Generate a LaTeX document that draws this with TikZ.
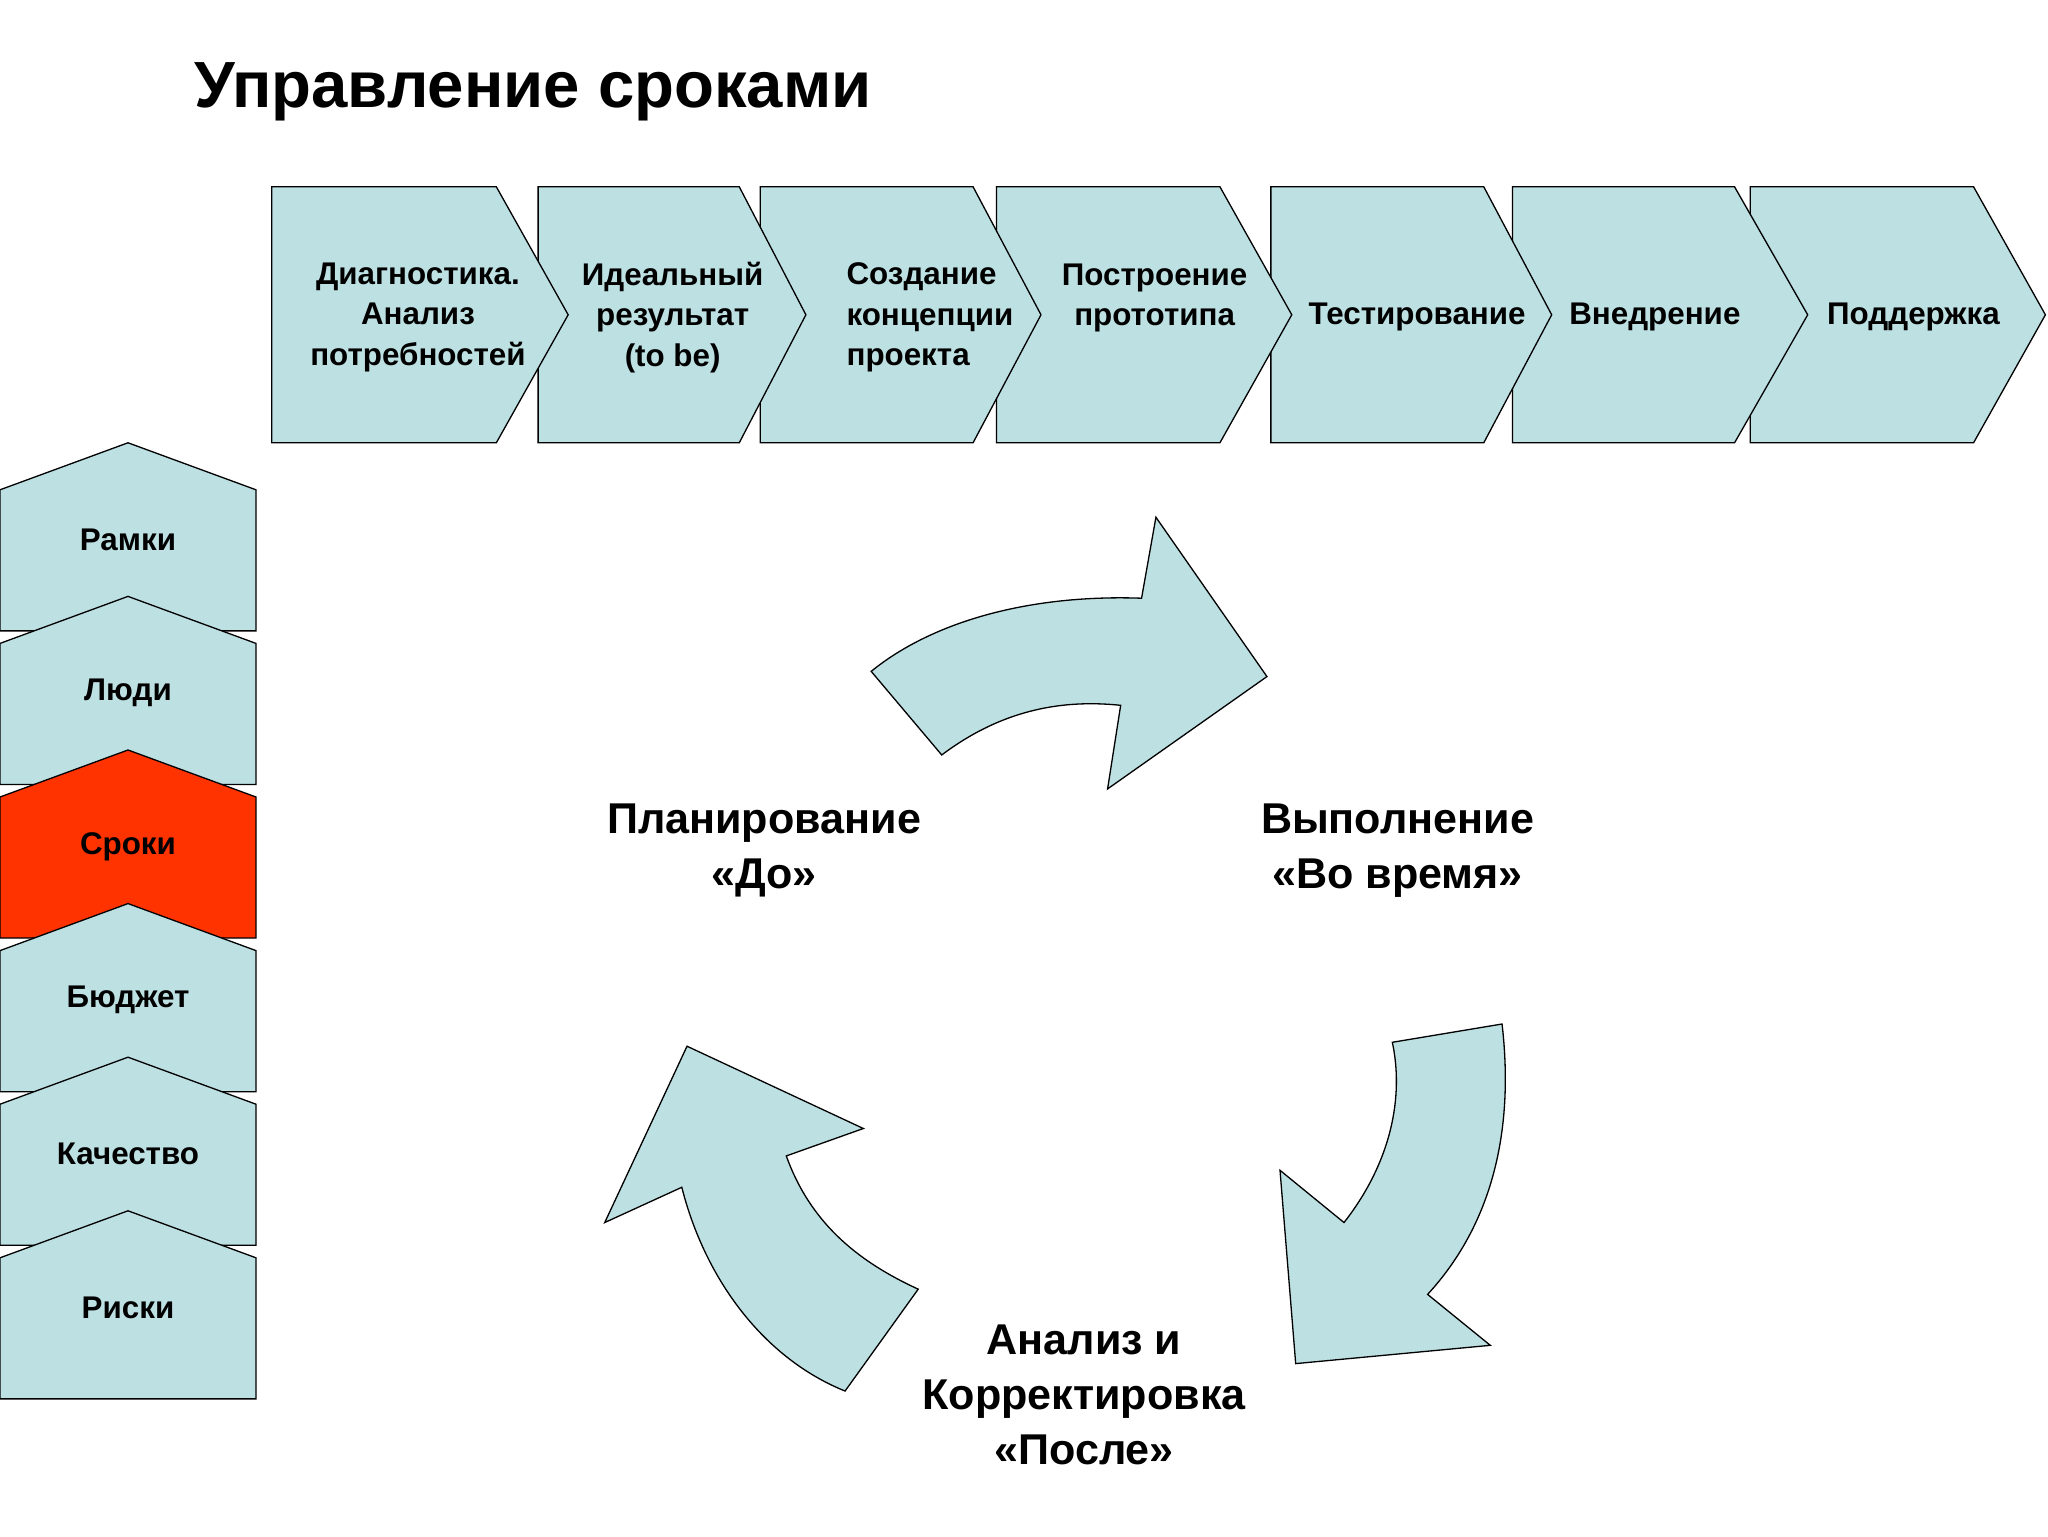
\documentclass[tikz,border=0pt]{standalone}
\usepackage{fontspec}
\setmainfont{Liberation Sans}
\begin{document}
\begin{tikzpicture}[x=1pt,y=-1pt,
  sh/.style={draw=black,fill=lb,line width=1pt,line join=miter},
  ct/.style={font=\bfseries\fontsize{24}{31}\selectfont,align=center},
  big/.style={font=\bfseries\fontsize{33}{42}\selectfont,align=center}]
\definecolor{lb}{HTML}{BDE0E3}
\definecolor{rd}{HTML}{FF3300}
\fill[white] (0,0) rectangle (1568,1176);
\useasboundingbox (0,0) rectangle (1568,1176);
\node[anchor=west,font=\bfseries\fontsize{50}{60}\selectfont] (title) at (145,70) {Управление сроками};
% chevrons, drawn last-first
\foreach \a/\b/\c in {1340/1511/1566,1158/1328/1384,973/1136/1188,763/934/989,582/745/797,412/566/617,208/380/435}{
  \draw[sh] (\a,143) -- (\b,143) -- (\c,241) -- (\b,339) -- (\a,339) -- cycle;
}
\node[ct] (c1) at (320,243) {Диагностика.\\Анализ\\потребностей};
\node[ct] (c2) at (515,243) {Идеальный\\результат\\(to be)};
\node[ct,align=left] (c3) at (712,243) {Создание\\концепции\\проекта};
\node[ct] (c4) at (884,228) {Построение\\прототипа};
\node[ct] (c5) at (1085,243) {Тестирование};
\node[ct] (c6) at (1267,243) {Внедрение};
\node[ct] (c7) at (1465,243) {Поддержка};
% left houses
\foreach \i/\t in {0/Рамки,1/Люди,2/Сроки,3/Бюджет,4/Качество,5/Риски}{
  \pgfmathsetmacro\p{339+117.6*\i}
  \ifnum\i=2 \def\fc{rd}\else\def\fc{lb}\fi
  \draw[sh,fill=\fc] (0,\p+36) -- (98,\p) -- (196,\p+36) -- (196,\p+144) -- (0,\p+144) -- cycle;
  \node[ct] (h\i) at (98,\p+74) {\t};
}
% curved arrows
\draw[sh] (667,514) -- (721,578) .. controls (765,545) and (810,535) .. (858,540)
  -- (848,604) -- (970,518) -- (885,396) -- (874,458)
  .. controls (790,455) and (715,475) .. cycle;
\draw[sh] (1066,798) -- (1150,784) .. controls (1160,870) and (1140,940) .. (1093,991)
  -- (1141,1030) -- (992,1044) -- (980,896) -- (1029,936)
  .. controls (1065,890) and (1075,840) .. cycle;
\draw[sh] (703,987) -- (647,1065) .. controls (585,1040) and (540,980) .. (522,909)
  -- (463,936) -- (526,801) -- (661,864) -- (602,885)
  .. controls (620,935) and (655,965) .. cycle;
\node[big] (plan) at (585,651) {Планирование\\«До»};
\node[big] (exec) at (1070,651) {Выполнение\\«Во время»};
\node[big] (anal) at (830,1068) {Анализ и\\Корректировка\\«После»};
\end{tikzpicture}
\end{document}
